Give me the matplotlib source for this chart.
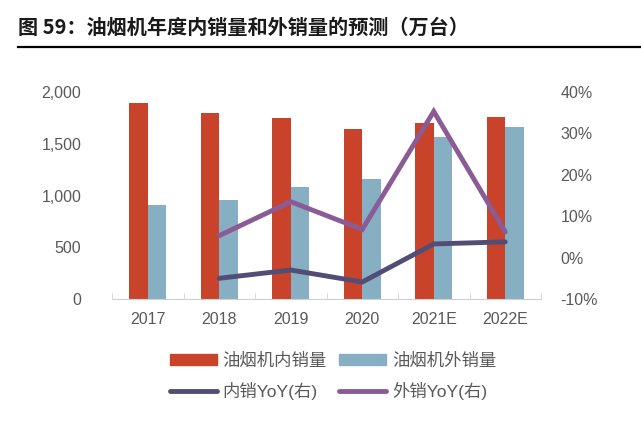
import matplotlib
matplotlib.use("Agg")
import matplotlib.pyplot as plt
import numpy as np
from matplotlib.lines import Line2D
from matplotlib.patches import Patch
from matplotlib.ticker import FuncFormatter, MultipleLocator

years = ["2017", "2018", "2019", "2020", "2021E", "2022E"]
domestic = [1894, 1800, 1746, 1643, 1697, 1762]
export = [908, 956, 1085, 1159, 1568, 1665]
dom_yoy = [None, -5.0, -3.0, -5.9, 3.3, 3.8]
exp_yoy = [None, 5.3, 13.5, 6.8, 35.3, 6.2]

plt.rcParams['font.family'] = ['Liberation Sans', 'Noto Sans CJK SC', 'DejaVu Sans']
gray = "#595959"
c_red = "#C8432A"
c_blue = "#86AFC3"
c_dom = "#524D75"
c_exp = "#8B5B95"

fig = plt.figure(figsize=(6.41, 4.22), dpi=100)
ax = fig.add_axes([112/641, 1-299/422, (541-112)/641, (299-92)/422])
x = np.arange(len(years))
w = 0.26
ax.bar(x - w/2, domestic, w, color=c_red, zorder=2)
ax.bar(x + w/2, export, w, color=c_blue, zorder=2)
ax.set_xlim(-0.5, len(years) - 0.5)
ax.set_ylim(0, 2000)
ax.yaxis.set_major_locator(MultipleLocator(500))
ax.yaxis.set_major_formatter(FuncFormatter(lambda v, p: f"{int(v):,}"))
ax.set_xticks(x)
ax.set_xticklabels(years)
ax.set_xticks(np.arange(-0.5, len(years)), minor=True)
ax.tick_params(axis='x', which='major', length=0, pad=9, labelsize=11.5, labelcolor=gray)
ax.tick_params(axis='x', which='minor', length=4, direction='in', color="#D0D0D0")
ax.tick_params(axis='y', length=0, pad=22, labelsize=11.5, labelcolor=gray)
for s in ['top', 'right', 'left']:
    ax.spines[s].set_visible(False)
ax.spines['bottom'].set_color("#D0D0D0")

ax2 = ax.twinx()
ax2.set_ylim(-10, 40)
ax2.yaxis.set_major_locator(MultipleLocator(10))
ax2.yaxis.set_major_formatter(FuncFormatter(lambda v, p: f"{int(v)}%"))
ax2.tick_params(axis='y', length=0, pad=14, labelsize=11.5, labelcolor=gray)
for s in ['top', 'right', 'left', 'bottom']:
    ax2.spines[s].set_visible(False)
xd = [i for i, v in enumerate(dom_yoy) if v is not None]
ax2.plot(xd, [dom_yoy[i] for i in xd], color=c_dom, lw=3.5, solid_capstyle='round', solid_joinstyle='miter')
ax2.plot(xd, [exp_yoy[i] for i in xd], color=c_exp, lw=3.5, solid_capstyle='round', solid_joinstyle='miter')

fig.text(18/641, 1-27/422, "图 59：油烟机年度内销量和外销量的预测（万台）", fontsize=14.5, fontweight='bold',
         family=['Noto Sans CJK SC', 'DejaVu Sans'], va='center', ha='left', color="#1a1a1a")
fig.add_artist(Line2D([18/641, 640/641], [1-47/422, 1-47/422], color='black', lw=1.6))

h_red = Patch(color=c_red)
h_blue = Patch(color=c_blue)
h_dom = Line2D([], [], color=c_dom, lw=3.5, solid_capstyle='round')
h_exp = Line2D([], [], color=c_exp, lw=3.5, solid_capstyle='round')
handles = [h_red, h_dom, h_blue, h_exp]
labels = ["油烟机内销量", "内销YoY(右)", "油烟机外销量", "外销YoY(右)"]
leg = fig.legend(handles, labels, ncol=2, loc='center', bbox_to_anchor=(333/641, 1-376/422),
                 frameon=False, labelcolor=gray, handlelength=2.7, handleheight=0.55,
                 columnspacing=0.7, handletextpad=0.35, labelspacing=0.75,
                 prop={'family': ['Liberation Sans', 'Noto Sans CJK SC'], 'size': 12.5})
fig.savefig("out.png", dpi=100)
